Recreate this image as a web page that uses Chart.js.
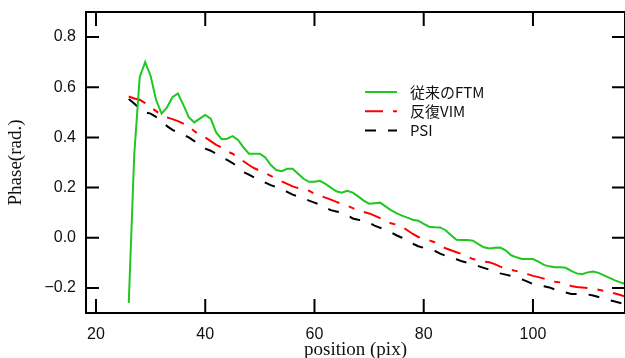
<!DOCTYPE html>
<html>
<head>
<meta charset="utf-8">
<script src="https://cdn.jsdelivr.net/npm/chart.js@4.4.1/dist/chart.umd.min.js"></script>
<style>
html, body { margin:0; padding:0; background:#fff; }
</style>
</head>
<body>
<canvas id="chart" width="625" height="358"></canvas>
<script>
// position (pix) on the x axis, one sample per pixel
var positions = [26,27,28,29,30,31,32,33,34,35,36,37,38,39,40,41,42,43,44,45,
  46,47,48,49,50,51,52,53,54,55,56,57,58,59,60,61,62,63,64,65,
  66,67,68,69,70,71,72,73,74,75,76,77,78,79,80,81,82,83,84,85,
  86,87,88,89,90,91,92,93,94,95,96,97,98,99,100,101,102,103,104,105,
  106,107,108,109,110,111,112,113,114,115,116,117];

// 従来のFTM
var ftmPhase = [-0.26,0.33,0.64,0.70,0.645,0.55,0.495,0.52,0.56,0.575,
  0.53,0.48,0.46,0.475,0.49,0.475,0.42,0.393,0.395,0.405,
  0.39,0.36,0.335,0.335,0.335,0.32,0.29,0.27,0.265,0.275,
  0.275,0.255,0.235,0.223,0.223,0.227,0.215,0.20,0.185,0.18,
  0.187,0.18,0.165,0.148,0.136,0.138,0.14,0.125,0.11,0.098,
  0.088,0.08,0.072,0.068,0.055,0.044,0.042,0.041,0.03,0.01,
  -0.008,-0.009,-0.009,-0.012,-0.025,-0.038,-0.043,-0.04,-0.039,-0.05,
  -0.07,-0.078,-0.085,-0.085,-0.085,-0.095,-0.108,-0.114,-0.118,-0.118,
  -0.12,-0.132,-0.142,-0.145,-0.138,-0.135,-0.14,-0.15,-0.16,-0.17,
  -0.178,-0.185];

// 反復VIM
var vimPhase = [0.563,0.555,0.55,0.537,0.52,0.505,0.49,0.48,0.473,0.465,
  0.455,0.445,0.425,0.41,0.40,0.385,0.37,0.36,0.345,0.335,
  0.32,0.305,0.29,0.277,0.267,0.257,0.247,0.236,0.225,0.215,
  0.205,0.198,0.192,0.188,0.175,0.168,0.16,0.152,0.143,0.135,
  0.128,0.118,0.11,0.103,0.097,0.088,0.078,0.066,0.058,0.052,
  0.044,0.03,0.015,0.003,-0.005,-0.01,-0.018,-0.03,-0.042,-0.05,
  -0.058,-0.065,-0.075,-0.085,-0.09,-0.095,-0.098,-0.105,-0.115,-0.122,
  -0.128,-0.133,-0.138,-0.145,-0.152,-0.157,-0.163,-0.17,-0.175,-0.178,
  -0.185,-0.192,-0.196,-0.198,-0.2,-0.203,-0.207,-0.212,-0.217,-0.222,
  -0.228,-0.235];

// PSI
var psiPhase = [0.553,0.535,0.515,0.50,0.495,0.482,0.47,0.445,0.43,0.42,
  0.41,0.40,0.385,0.37,0.355,0.347,0.335,0.322,0.31,0.298,
  0.282,0.262,0.252,0.24,0.228,0.22,0.21,0.202,0.193,0.183,
  0.172,0.165,0.158,0.148,0.14,0.132,0.12,0.11,0.105,0.10,
  0.09,0.077,0.072,0.068,0.06,0.048,0.04,0.032,0.022,0.01,
  0.0,-0.012,-0.024,-0.034,-0.04,-0.045,-0.052,-0.063,-0.072,-0.08,
  -0.086,-0.094,-0.10,-0.106,-0.113,-0.12,-0.127,-0.135,-0.142,-0.147,
  -0.152,-0.16,-0.166,-0.175,-0.185,-0.19,-0.193,-0.198,-0.206,-0.212,
  -0.218,-0.224,-0.224,-0.224,-0.226,-0.23,-0.236,-0.243,-0.249,-0.254,
  -0.26,-0.268];

var seriesNames = ['従来のFTM', '反復VIM', 'PSI'];
var xTicks = [20, 40, 60, 80, 100];
var yTicks = [-0.2, 0, 0.2, 0.4, 0.6, 0.8];

function toPoints(ys){
  return positions.map(function(x, i){ return {x: x, y: ys[i]}; });
}

// box frame with inward ticks on all four sides
var frame = {
  id: 'frame',
  afterDraw: function(chart){
    var ctx = chart.ctx, a = chart.chartArea;
    var xs = chart.scales.x, ys = chart.scales.y;
    ctx.save();
    ctx.strokeStyle = '#000';
    ctx.lineWidth = 2;
    ctx.strokeRect(a.left, a.top, a.right - a.left, a.bottom - a.top);
    ctx.beginPath();
    xTicks.forEach(function(v){
      var px = xs.getPixelForValue(v);
      ctx.moveTo(px, a.bottom); ctx.lineTo(px, a.bottom - 14);
      ctx.moveTo(px, a.top); ctx.lineTo(px, a.top + 14);
    });
    yTicks.forEach(function(v){
      var py = ys.getPixelForValue(v);
      ctx.moveTo(a.left, py); ctx.lineTo(a.left + 13, py);
      ctx.moveTo(a.right, py); ctx.lineTo(a.right - 13, py);
    });
    ctx.stroke();
    ctx.restore();
  }
};

// legend drawn inside the plot, from the datasets' own styles
var boxLegend = {
  id: 'boxLegend',
  afterDraw: function(chart){
    var ctx = chart.ctx;
    chart.data.datasets.forEach(function(ds, i){
      var y = 92 + i * 19.2;
      ctx.save();
      ctx.strokeStyle = ds.borderColor;
      ctx.lineWidth = ds.borderWidth;
      ctx.setLineDash(ds.borderDash || []);
      ctx.beginPath();
      ctx.moveTo(365, y); ctx.lineTo(397, y);
      ctx.stroke();
      ctx.setLineDash([]);
      ctx.fillStyle = '#111';
      ctx.font = '15px "Noto Sans CJK JP"';
      ctx.textBaseline = 'middle';
      ctx.fillText(ds.label, 410, y);
      ctx.restore();
    });
  }
};

var canvas = document.getElementById('chart');
var chart = new Chart(canvas, {
  type: 'line',
  data: {
    datasets: [
      {label: seriesNames[0], data: toPoints(ftmPhase), borderColor: '#1ec81e', borderWidth: 2},
      {label: seriesNames[1], data: toPoints(vimPhase), borderColor: '#ff0000', borderWidth: 2, borderDash: [18, 10, 6, 10]},
      {label: seriesNames[2], data: toPoints(psiPhase), borderColor: '#000000', borderWidth: 2, borderDash: [11, 12]}
    ]
  },
  options: {
    responsive: false,
    animation: false,
    layout: {padding: {top: 12, right: 0, left: 0, bottom: 0}},
    elements: {point: {radius: 0}, line: {tension: 0}},
    plugins: {legend: {display: false}, tooltip: {enabled: false}},
    scales: {
      x: {
        type: 'linear',
        min: 18.17,
        max: 116.85,
        grid: {display: false, drawTicks: false},
        border: {display: false},
        afterBuildTicks: function(s){ s.ticks = xTicks.map(function(v){ return {value: v}; }); },
        afterFit: function(s){ s.height = 45; s.paddingLeft = 0; s.paddingRight = 0; },
        ticks: {
          padding: 12,
          color: '#111',
          font: {family: '"Liberation Sans", Arial, sans-serif', size: 16}
        },
        title: {
          display: true,
          text: 'position (pix)',
          color: '#111',
          font: {family: '"Liberation Serif", "Times New Roman", serif', size: 19},
          padding: {top: 0, bottom: -3}
        }
      },
      y: {
        min: -0.3,
        max: 0.9,
        grid: {display: false, drawTicks: false},
        border: {display: false},
        afterBuildTicks: function(s){ s.ticks = yTicks.map(function(v){ return {value: v}; }); },
        afterFit: function(s){ s.width = 86; s.paddingTop = 0; s.paddingBottom = 0; },
        ticks: {
          padding: 10,
          color: '#111',
          font: {family: '"Liberation Sans", Arial, sans-serif', size: 16},
          callback: function(v){ return v < 0 ? '\u2212' + Math.abs(v).toFixed(1) : v.toFixed(1); }
        },
        title: {
          display: true,
          text: 'Phase(rad.)',
          color: '#111',
          font: {family: '"Liberation Serif", "Times New Roman", serif', size: 19},
          padding: {top: 5, bottom: 0}
        }
      }
    }
  },
  plugins: [frame, boxLegend]
});
</script>
</body>
</html>
